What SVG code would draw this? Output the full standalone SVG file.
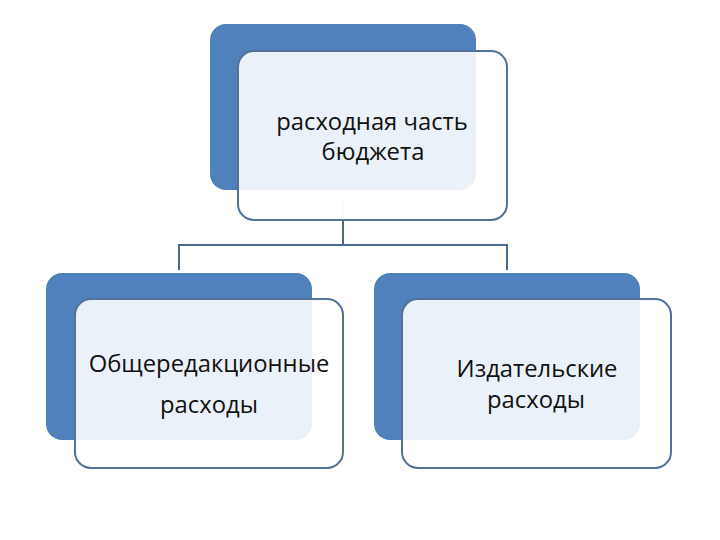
<svg xmlns="http://www.w3.org/2000/svg" width="720" height="540" viewBox="0 0 720 540">
<style>
.back{fill:#4f81bd}
.front{fill:#ffffff;fill-opacity:0.89;stroke:#51739a;stroke-width:2}
.lbl{font-family:"Open Sans","DejaVu Sans",sans-serif;font-size:23.8px;fill:#111111;text-anchor:middle}
.conn{fill:none;stroke:#4a6a8c;stroke-width:2}
</style>
<rect width="720" height="540" fill="#ffffff"/>
<g id="connectors">
<line x1="343" y1="195" x2="343" y2="220" stroke="#c8d3e0" stroke-width="1.5"/>
<polyline class="conn" points="343,220 343,245"/>
<polyline class="conn" points="179,270 179,245 507,245 507,270"/>
</g>
<g id="node-top">
<rect class="back" x="210" y="24" width="266" height="166" rx="16"/>
<rect class="front" x="238" y="51" width="269" height="169" rx="16"/>
<text class="lbl" x="372" y="130">расходная часть</text>
<text class="lbl" x="373" y="160">бюджета</text>
</g>
<g id="node-left">
<rect class="back" x="46" y="273" width="266" height="167" rx="16"/>
<rect class="front" x="75" y="299" width="268" height="169" rx="16"/>
<text class="lbl" x="209" y="372">Общередакционные</text>
<text class="lbl" x="209" y="413">расходы</text>
</g>
<g id="node-right">
<rect class="back" x="374" y="273" width="266" height="167" rx="16"/>
<rect class="front" x="402" y="299" width="269" height="169" rx="16"/>
<text class="lbl" x="537" y="377">Издательские</text>
<text class="lbl" x="536" y="408">расходы</text>
</g>
</svg>
